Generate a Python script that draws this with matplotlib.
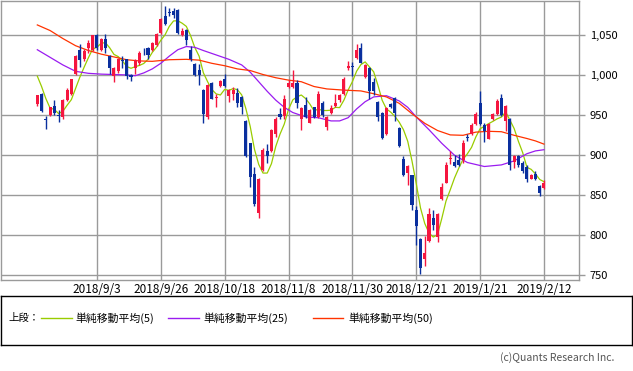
import numpy as np
import matplotlib
matplotlib.use('Agg')
import matplotlib.pyplot as plt
from matplotlib.ticker import FuncFormatter

plt.rcParams['font.family'] = ['Noto Sans CJK JP', 'DejaVu Sans']

# daily candles, 2018/8/14 .. 2019/2/12 (trading days)
opens = [964, 977, 945, 950, 962, 950, 948, 969, 977, 1002,
         1032, 1020, 1034, 1032, 1050, 1032, 1045, 1024, 999, 1006,
         1019, 1020, 1000, 1009, 1015, 1031, 1034, 1032, 1038, 1053,
         1074, 1079, 1081, 1082, 1050, 1057, 1032, 1014, 1007, 982,
         948, 991, 972, 987, 995, 974, 977, 978, 973, 943,
         915, 877, 828, 882, 905, 906, 927, 952, 949, 985,
         985, 991, 946, 963, 941, 960, 948, 966, 936, 953,
         962, 969, 977, 1009, 1012, 1022, 1034, 998, 1009, 992,
         967, 953, 927, 964, 972, 934, 896, 878, 875, 831,
         795, 770, 793, 821, 798, 845, 866, 895, 892, 894,
         894, 923, 927, 939, 965, 938, 921, 945, 952, 972,
         943, 946, 892, 899, 891, 886, 871, 877, 862, 859]
highs = [976, 978, 949, 961, 969, 957, 970, 984, 996, 1025,
         1039, 1033, 1044, 1051, 1052, 1047, 1052, 1025, 1010, 1022,
         1024, 1021, 1002, 1020, 1030, 1034, 1035, 1042, 1053, 1072,
         1087, 1084, 1084, 1083, 1059, 1058, 1037, 1015, 1014, 983,
         989, 992, 977, 994, 1002, 983, 985, 984, 974, 944,
         916, 886, 872, 909, 914, 933, 948, 959, 975, 994,
         1007, 994, 960, 973, 958, 961, 981, 968, 949, 963,
         977, 977, 998, 1018, 1017, 1039, 1041, 1014, 1010, 997,
         968, 954, 960, 966, 973, 935, 899, 888, 876, 836,
         796, 799, 834, 832, 828, 866, 892, 905, 900, 902,
         919, 927, 941, 954, 981, 940, 940, 953, 971, 977,
         963, 947, 900, 900, 893, 888, 877, 880, 863, 869]
lows = [962, 954, 933, 949, 950, 942, 946, 968, 976, 1001,
        1011, 1018, 1028, 1031, 1032, 1030, 1028, 1002, 992, 1003,
        1009, 996, 993, 1002, 1013, 1025, 1021, 1031, 1037, 1052,
        1063, 1074, 1072, 1052, 1049, 1038, 1018, 999, 988, 941,
        946, 970, 960, 986, 986, 967, 969, 961, 952, 898,
        861, 836, 821, 881, 890, 904, 923, 946, 945, 984,
        984, 959, 932, 947, 940, 947, 947, 948, 932, 952,
        960, 967, 976, 1007, 999, 1021, 1015, 997, 970, 975,
        943, 920, 925, 959, 943, 911, 874, 863, 831, 788,
        752, 761, 792, 807, 791, 844, 865, 889, 886, 887,
        891, 918, 926, 938, 938, 917, 920, 944, 951, 949,
        931, 882, 884, 886, 878, 867, 870, 869, 849, 858]
closes = [975, 955, 944, 960, 953, 949, 969, 982, 995, 1024,
          1019, 1031, 1041, 1050, 1034, 1045, 1034, 1009, 1009, 1020,
          1018, 999, 998, 1019, 1028, 1030, 1025, 1041, 1052, 1071,
          1064, 1078, 1075, 1053, 1056, 1044, 1020, 1000, 1000, 952,
          988, 971, 973, 993, 987, 982, 982, 966, 961, 899,
          873, 839, 871, 907, 899, 932, 946, 948, 970, 991,
          991, 966, 959, 948, 957, 948, 977, 950, 948, 959,
          966, 975, 996, 1012, 1011, 1032, 1016, 1013, 981, 980,
          948, 922, 959, 961, 953, 912, 875, 887, 838, 812,
          759, 778, 827, 813, 827, 860, 888, 897, 887, 888,
          915, 922, 938, 952, 939, 930, 939, 952, 968, 950,
          962, 888, 899, 888, 880, 870, 875, 871, 853, 866]

tick_idx = [14, 29, 44, 59, 74, 89, 104, 119]
tick_labels = ['2018/9/3', '2018/9/26', '2018/10/18', '2018/11/8',
               '2018/11/30', '2018/12/21', '2019/1/21', '2019/2/12']

# first four 5-day averages need closes before the window
ma5_head = [999, 986, 971, 959]

ma25_idx = [0, 3, 6, 9, 12, 15, 18, 21, 23, 25, 27, 29, 31, 33, 35, 37, 39,
            42, 45, 48, 50, 52, 54, 56, 58, 60, 63, 66, 69, 71, 73, 75, 77,
            79, 82, 85, 87, 89, 92, 95, 98, 101, 105, 109, 112, 115, 117, 119]
ma25_val = [1032, 1022.5, 1013, 1005, 1002.5, 1001.5, 1001, 1000.5, 999.5,
            1003, 1008, 1015, 1024, 1032, 1036, 1035, 1031, 1025.5, 1020,
            1013, 1004, 992, 980, 969, 960, 953.5, 948, 947, 943, 943, 947,
            958, 967, 973, 974.5, 968, 960, 948, 932, 915, 900, 891, 886,
            888, 893, 902, 905.5, 907]

ma50_idx = [0, 3, 6, 9, 12, 15, 18, 21, 24, 27, 31, 35, 38, 41, 44, 47, 50,
            53, 56, 59, 62, 65, 68, 72, 76, 79, 82, 85, 88, 91, 94, 97, 100,
            103, 106, 109, 112, 115, 117, 119]
ma50_val = [1063, 1056, 1046, 1037, 1031, 1026.5, 1023, 1019.5, 1018,
            1017.5, 1019.5, 1020, 1019, 1015, 1012, 1008, 1006, 1001, 997,
            994, 992, 986, 983, 981.5, 980.5, 977, 973, 965, 952, 940, 931,
            925.5, 925, 929, 930, 929.5, 925, 921, 918, 914]

RED = '#f5163f'
BLUE = '#0a2f9e'
GRID = '#9a9a9a'

W, H = 633, 371


def px_rect(x0, y0, x1, y1):
    # pixel box (from top-left) -> figure fraction
    return (x0 / W, 1 - y1 / H, (x1 - x0) / W, (y1 - y0) / H)


fig = plt.figure(figsize=(W / 100, H / 100), dpi=100)
ax = fig.add_axes(px_rect(0.7, 0.7, 579.3, 280))

o = np.array(opens, dtype=float)
h = np.array(highs, dtype=float)
l = np.array(lows, dtype=float)
c = np.array(closes, dtype=float)
x = np.arange(len(c))

ma5 = np.concatenate([ma5_head, np.convolve(c, np.ones(5) / 5, 'valid')])
ax.plot(x, ma5, color='#99cc00', lw=0.9, zorder=3)
ax.plot(ma25_idx, ma25_val, color='#9a1cf0', lw=0.9, zorder=3)
ax.plot(ma50_idx, ma50_val, color='#ff3300', lw=0.9, zorder=3)

col = np.where(c > o, RED, BLUE)
ax.vlines(x, l, h, colors=col, lw=1.0, zorder=4)
ax.bar(x, np.maximum(np.abs(c - o), 1.0), bottom=np.minimum(o, c),
       width=0.72, color=col, lw=0, zorder=5)

ax.set_xlim(-8.6, 127.3)
ax.set_ylim(744.1, 1093.3)
ax.set_axisbelow(True)
ax.grid(True, color=GRID, lw=1.0)

ax.set_xticks(tick_idx)
ax.set_xticklabels(tick_labels)
ax.yaxis.tick_right()
ax.set_yticks(range(750, 1051, 50))
ax.yaxis.set_major_formatter(FuncFormatter(lambda v, p: f'{v:,.0f}'))
ax.tick_params(axis='x', length=0, pad=2.5, labelsize=8.5)
ax.tick_params(axis='y', length=4.5, width=1.0, color=GRID, pad=3, labelsize=8)
for s in ax.spines.values():
    s.set_color(GRID)
    s.set_linewidth(1.0)

# legend box, drawn in pixel units
lax = fig.add_axes(px_rect(0.5, 296, 632, 345))
lax.set_xlim(0, 631.5)
lax.set_ylim(49, 0)
lax.set_xticks([])
lax.set_yticks([])
for s in lax.spines.values():
    s.set_color('black')
    s.set_linewidth(1.0)
ly = 22
lax.text(8, ly, '上段：', fontsize=7.5, va='center')
legend_items = [('単純移動平均(5)', '#99cc00', 40, 71, 75),
                ('単純移動平均(25)', '#9a1cf0', 167, 198, 203),
                ('単純移動平均(50)', '#ff3300', 312, 342, 348)]
for name, color, x0, x1, tx in legend_items:
    lax.plot([x0, x1], [ly, ly], color=color, lw=1.0)
    lax.text(tx, ly, name, fontsize=7.8, va='center')

fig.text(614 / W, 1 - 358 / H, '(c)Quants Research Inc.', ha='right',
         va='center', fontsize=7.5, color='#555555')

fig.savefig('out.png', dpi=100)
